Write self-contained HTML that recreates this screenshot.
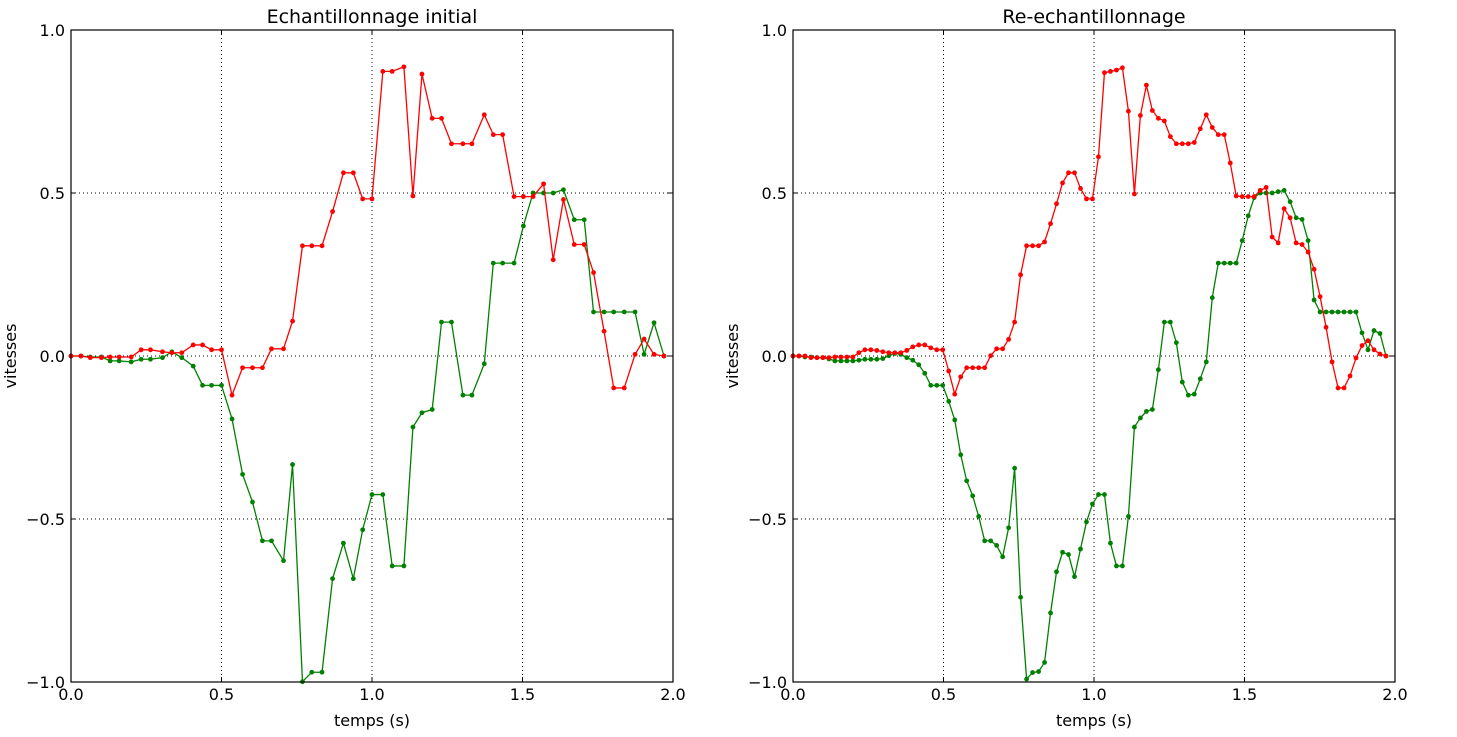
<!DOCTYPE html>
<html><head><meta charset="utf-8"><style>
body{margin:0;background:#fff}
svg{display:block;font-family:"DejaVu Sans","Liberation Sans",sans-serif}
</style></head><body>
<svg id="fig" width="1457" height="737" viewBox="0 0 1457 737"></svg>
<script>
const xTicks=[0,0.5,1.0,1.5,2.0];
const xTickLabels=["0.0","0.5","1.0","1.5","2.0"];
const yTicks=[-1,-0.5,0,0.5,1];
const yTickLabels=["\u22121.0","\u22120.5","0.0","0.5","1.0"];
// Left: initial sampling
const t1=[0,0.033,0.064,0.101,0.130,0.160,0.200,0.233,0.264,0.304,0.335,0.368,0.406,0.437,0.467,0.500,0.535,0.570,0.603,0.636,0.666,0.706,0.736,0.769,0.800,0.834,0.869,0.905,0.938,0.969,1.0,1.036,1.067,1.106,1.136,1.166,1.200,1.231,1.264,1.302,1.332,1.373,1.403,1.434,1.472,1.503,1.535,1.570,1.602,1.636,1.672,1.705,1.736,1.771,1.803,1.838,1.874,1.904,1.937,1.970];
const red1=[0,0,-0.005,-0.005,-0.003,-0.003,-0.003,0.019,0.019,0.013,0.010,0.010,0.034,0.034,0.019,0.019,-0.12,-0.036,-0.036,-0.036,0.022,0.022,0.107,0.338,0.338,0.338,0.443,0.562,0.562,0.482,0.482,0.873,0.873,0.887,0.491,0.865,0.729,0.729,0.651,0.651,0.651,0.740,0.679,0.679,0.489,0.489,0.489,0.528,0.295,0.480,0.342,0.342,0.256,0.076,-0.098,-0.098,0.005,0.052,0.005,0];
const green1=[0,0,-0.003,-0.003,-0.015,-0.015,-0.018,-0.010,-0.010,-0.005,0.013,-0.005,-0.031,-0.090,-0.090,-0.090,-0.193,-0.363,-0.448,-0.567,-0.567,-0.628,-0.333,-0.999,-0.970,-0.970,-0.683,-0.574,-0.683,-0.533,-0.425,-0.425,-0.644,-0.644,-0.218,-0.174,-0.164,0.104,0.104,-0.120,-0.120,-0.024,0.285,0.285,0.285,0.399,0.5,0.5,0.5,0.510,0.418,0.418,0.135,0.135,0.135,0.135,0.135,0.005,0.102,0];
// Right: resampled (100 points, 0..1.97)
const red2=[0,0,0,-0.005,-0.005,-0.005,-0.005,-0.003,-0.003,-0.003,-0.003,0.010,0.019,0.019,0.017,0.013,0.010,0.010,0.010,0.017,0.028,0.034,0.034,0.025,0.019,0.019,-0.046,-0.117,-0.064,-0.036,-0.036,-0.036,-0.036,0.001,0.022,0.022,0.051,0.104,0.249,0.338,0.338,0.338,0.350,0.406,0.467,0.531,0.562,0.562,0.514,0.482,0.482,0.611,0.869,0.873,0.877,0.884,0.751,0.497,0.738,0.831,0.753,0.729,0.721,0.673,0.651,0.651,0.651,0.655,0.697,0.740,0.701,0.679,0.679,0.592,0.491,0.489,0.489,0.489,0.508,0.517,0.365,0.347,0.452,0.424,0.347,0.342,0.319,0.266,0.182,0.088,-0.018,-0.098,-0.098,-0.061,-0.006,0.032,0.047,0.019,0.006,0];
const green2=[0,0,-0.003,-0.003,-0.005,-0.005,-0.009,-0.015,-0.015,-0.015,-0.015,-0.013,-0.010,-0.010,-0.010,-0.008,0.001,0.008,0.005,-0.005,-0.013,-0.027,-0.053,-0.090,-0.090,-0.090,-0.139,-0.196,-0.303,-0.383,-0.429,-0.492,-0.567,-0.567,-0.581,-0.616,-0.527,-0.344,-0.740,-0.991,-0.971,-0.968,-0.940,-0.788,-0.662,-0.602,-0.609,-0.677,-0.592,-0.509,-0.454,-0.425,-0.425,-0.574,-0.644,-0.644,-0.492,-0.218,-0.190,-0.170,-0.164,-0.042,0.104,0.104,0.041,-0.080,-0.120,-0.117,-0.070,-0.018,0.179,0.285,0.285,0.285,0.285,0.354,0.430,0.486,0.5,0.5,0.5,0.504,0.508,0.473,0.424,0.419,0.354,0.172,0.135,0.135,0.135,0.135,0.135,0.135,0.135,0.071,0.019,0.078,0.069,0];
const tEnd2=1.97;
const t2=red2.map((_,i)=>i*tEnd2/(red2.length-1));

const NS="http://www.w3.org/2000/svg";
const svg=document.getElementById('fig');
function mk(tag,attrs,parent){const e=document.createElementNS(NS,tag);for(const k in attrs)e.setAttribute(k,attrs[k]);(parent||svg).appendChild(e);return e;}

function drawAxes(x0,x1,y0,y1,title,t,rs,gs,prefix){
  const sx=v=>x0+(v-0)/(2-0)*(x1-x0);
  const sy=v=>y1-(v+1)/2*(y1-y0);
  const g=mk('g',{});
  
  
  xTicks.forEach((v,i)=>{
    if(i>0&&i<xTicks.length-1){const l=mk('line',{x1:sx(v),x2:sx(v),y1:y0,y2:y1,stroke:'#000','stroke-width':1,'stroke-dasharray':'1,3'},g);
      }
    mk('line',{x1:sx(v),x2:sx(v),y1:y1,y2:y1-5,stroke:'#000'},g);
    mk('line',{x1:sx(v),x2:sx(v),y1:y0,y2:y0+5,stroke:'#000'},g);
    const tx=mk('text',{x:sx(v),y:y1+18,'text-anchor':'middle','font-size':16},g);
    tx.textContent=xTickLabels[i];
    
  });
  yTicks.forEach((v,i)=>{
    if(i>0&&i<yTicks.length-1){const l=mk('line',{x1:x0,x2:x1,y1:sy(v),y2:sy(v),stroke:'#000','stroke-width':1,'stroke-dasharray':'1,3'},g);
      }
    mk('line',{x1:x0,x2:x0+5,y1:sy(v),y2:sy(v),stroke:'#000'},g);
    mk('line',{x1:x1,x2:x1-5,y1:sy(v),y2:sy(v),stroke:'#000'},g);
    const tx=mk('text',{x:x0-6,y:sy(v)+6,'text-anchor':'end','font-size':16},g);
    tx.textContent=yTickLabels[i];
    
  });
  [[t,gs,'#008000','green'],[t,rs,'#ff0000','red']].forEach(([tt,vals,col,nm])=>{
    const pts=vals.map((v,i)=>sx(tt[i]).toFixed(2)+','+sy(v).toFixed(2)).join(' ');
    const pl=mk('polyline',{points:pts,fill:'none',stroke:col,'stroke-width':1.3},g);
    
    vals.forEach((v,i)=>{const c=mk('circle',{cx:sx(tt[i]),cy:sy(v),r:2.4,fill:col},g);
      });
  });
  const fr=mk('rect',{x:x0,y:y0,width:x1-x0,height:y1-y0,fill:'none',stroke:'#000','stroke-width':1.2},g);
  
  const ti=mk('text',{x:(x0+x1)/2,y:y0-7,'text-anchor':'middle','font-size':19},g);
  ti.textContent=title;
  const xl=mk('text',{x:(x0+x1)/2,y:y1+44,'text-anchor':'middle','font-size':16},g);
  xl.textContent='temps (s)';
  const yl=mk('text',{x:0,y:0,'text-anchor':'middle','font-size':16,transform:`translate(${x0-55},${(y0+y1)/2}) rotate(-90)`},g);
  yl.textContent='vitesses';
}
drawAxes(71,673,30,682,'Echantillonnage initial',t1,red1,green1,'left');
drawAxes(793,1395,30,682,'Re-echantillonnage',t2,red2,green2,'right');
</script>
</body></html>
